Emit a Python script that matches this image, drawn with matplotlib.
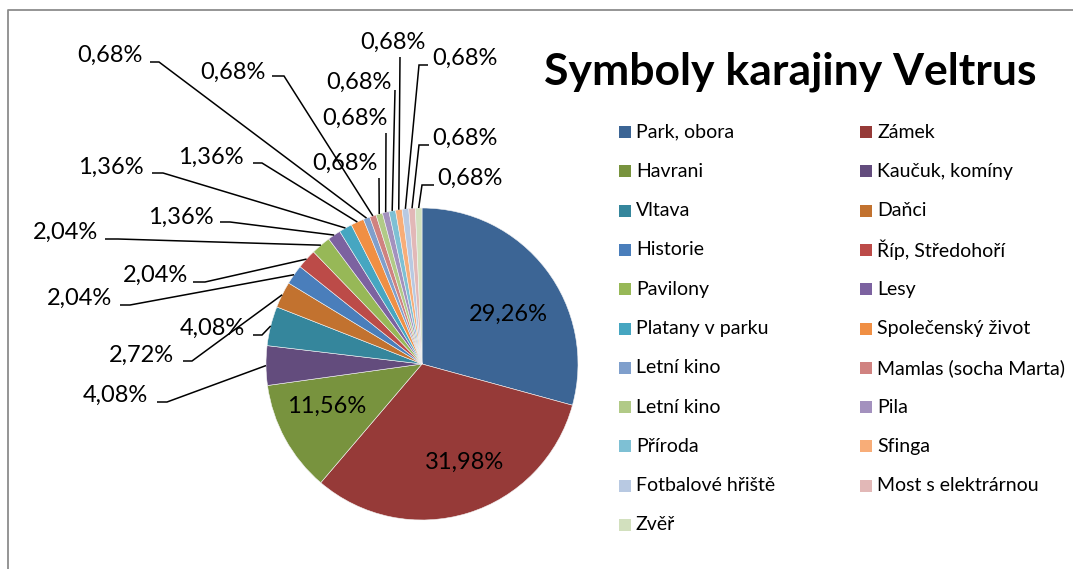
import numpy as np
import matplotlib.pyplot as plt

plt.rcParams['font.family'] = ['Lato', 'DejaVu Sans']

W, H = 1073, 569

categories = ['Park, obora', 'Zámek', 'Havrani', 'Kaučuk, komíny', 'Vltava', 'Daňci',
              'Historie', 'Říp, Středohoří', 'Pavilony', 'Lesy', 'Platany v parku',
              'Společenský život', 'Letní kino', 'Mamlas (socha Marta)', 'Letní kino',
              'Pila', 'Příroda', 'Sfinga', 'Fotbalové hřiště', 'Most s elektrárnou', 'Zvěř']
shares = [29.26, 31.98, 11.56, 4.08, 4.08, 2.72, 2.04, 2.04, 2.04, 1.36, 1.36, 1.36,
          0.68, 0.68, 0.68, 0.68, 0.68, 0.68, 0.68, 0.68, 0.68]
colors = ['#3C6595', '#963A38', '#78933E', '#634C7D', '#35869C', '#C2722F',
          '#4A7EBB', '#BC4B48', '#97B857', '#7C62A0', '#46A6C1', '#F08F44',
          '#7F9FCC', '#D08280', '#B1CA87', '#A391BE', '#7EC0D4', '#F8AD78',
          '#B8C9E2', '#E2B8B7', '#D2E0BE']

labels = [f'{p:.2f}%'.replace('.', ',') for p in shares]

# label layout in image pixels (y down): text centre, line start next to text, elbow
inner_pos = {0: (508, 314), 1: (465, 462), 2: (327, 406)}
outer_pos = {
    3: ((115, 395), (157, 402), (167, 402)),
    4: ((212, 328), (253, 335), (262, 335)),
    5: ((141, 355), (183, 361), (192, 361)),
    6: ((80, 298), (120, 305), (130, 305)),
    7: ((155, 275), (193, 282), (205, 282)),
    8: ((65, 232), (105, 239), (118, 239)),
    9: ((181, 217), (220, 222), (230, 222)),
    10: ((111, 167), (152, 173), (163, 173)),
    11: ((211, 157), (253, 163), (262, 163)),
    12: ((110, 55), (150, 62), (159, 62)),
    13: ((233, 72), (272, 76), (284, 76)),
    14: ((345, 163), (379, 178), (379, 178)),
    15: ((355, 118), (386, 133), (386, 133)),
    16: ((359, 82), (395, 90), (395, 90)),
    17: ((393, 42), (400, 57), (400, 57)),
    18: ((465, 58), (428, 65), (419, 65)),
    19: ((465, 138), (429, 145), (419, 145)),
    20: ((470, 178), (434, 185), (422, 185)),
}

fig = plt.figure(figsize=(W / 100, H / 100), dpi=100)
ax = fig.add_axes([0, 0, 1, 1])

cx, cy, r = 422, H - 364, 156
wedges, _ = ax.pie(shares, colors=colors, startangle=90, counterclock=False,
                   center=(cx, cy), radius=r, frame=True,
                   wedgeprops=dict(edgecolor='#f4f4f4', linewidth=0.4))
ax.set_xlim(0, W)
ax.set_ylim(0, H)
ax.set_aspect('equal')
ax.axis('off')

for i, lab in enumerate(labels):
    if i in inner_pos:
        x, y = inner_pos[i]
        ax.text(x, H - y, lab, ha='center', va='center', fontsize=17)
        continue
    (tx, ty), (sx, sy), (ex, ey) = outer_pos[i]
    w = wedges[i]
    mid = np.deg2rad((w.theta1 + w.theta2) / 2)
    px, py = cx + r * np.cos(mid), cy + r * np.sin(mid)
    ax.plot([sx, ex, px], [H - sy, H - ey, py], color='black', lw=1.1,
            solid_capstyle='butt', solid_joinstyle='miter')
    ax.text(tx, H - ty, lab, ha='center', va='center', fontsize=17)

# title
ax.text(790, H - 72, 'Symboly karajiny Veltrus', ha='center', va='center',
        fontsize=32, fontweight='bold')

# legend, filled row by row in two columns
col_x = [619, 860]
row_y0, row_dy = 132, 39.3
for i, (name, c) in enumerate(zip(categories, colors)):
    x = col_x[i % 2]
    y = row_y0 + row_dy * (i // 2)
    ax.add_patch(plt.Rectangle((x, H - y - 6), 12, 12, facecolor=c, edgecolor='none'))
    ax.text(x + 17, H - y, name, ha='left', va='center', fontsize=14)

# chart border (left and top visible)
ax.plot([8, 8, W + 5], [-5, H - 10, H - 10], color='#8c8c8c', lw=1.3)

fig.savefig('out.png', dpi=100)
